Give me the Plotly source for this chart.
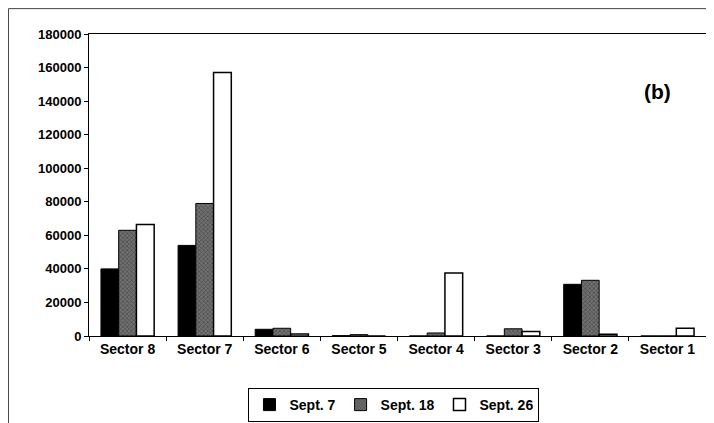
import plotly.graph_objects as go

categories = ["Sector 8", "Sector 7", "Sector 6", "Sector 5", "Sector 4", "Sector 3", "Sector 2", "Sector 1"]
sept7 = [40000, 54000, 4000, 200, 0, 0, 30800, 0]
sept18 = [63000, 79000, 4600, 800, 1800, 4300, 33200, 0]
sept26 = [66500, 157000, 1200, 0, 37500, 2700, 1000, 4600]
y_ticks = [0, 20000, 40000, 60000, 80000, 100000, 120000, 140000, 160000, 180000]

font_family = "Arial, Liberation Sans, sans-serif"

fig = go.Figure()
fig.add_trace(go.Bar(x=categories, y=sept7, name="Sept. 7",
                     marker=dict(color="black", line=dict(color="black", width=1))))
fig.add_trace(go.Bar(x=categories, y=sept18, name="Sept. 18",
                     marker=dict(color="#666", line=dict(color="black", width=1),
                                 pattern=dict(shape="x", fgcolor="#222", bgcolor="#707070",
                                              size=3, solidity=0.4))))
fig.add_trace(go.Bar(x=categories, y=sept26, name="Sept. 26",
                     marker=dict(color="white", line=dict(color="black", width=1.5))))

# page has an 8px body margin, so the figure is sized to the visible area
fig.update_layout(
    width=706, height=415,
    margin=dict(l=81, r=8, t=26, b=87, autoexpand=False),
    paper_bgcolor="white", plot_bgcolor="white",
    barmode="group", bargap=0.31, bargroupgap=0,
    font=dict(family=font_family, size=13, color="black"),
    showlegend=True,
    legend=dict(orientation="h", xref="container", yref="container",
                x=0.5467, xanchor="center", y=0.0843, yanchor="top",
                bordercolor="black", borderwidth=1, bgcolor="white",
                font=dict(family=font_family, size=14, color="black", weight="bold"),
                itemwidth=30, tracegroupgap=0),
    annotations=[dict(text="<b>(b)</b>", x=0.9206, y=0.808, xref="paper", yref="paper",
                      xanchor="center", yanchor="middle",
                      showarrow=False, font=dict(family=font_family, size=21, color="black"))],
    shapes=[dict(type="rect", xref="paper", yref="paper", x0=-0.1305, x1=1.05, y0=-0.35, y1=1.084,
                 line=dict(color="#444", width=1), layer="below")],
)
fig.update_xaxes(showline=True, linecolor="black", linewidth=1, mirror=True,
                 ticks="outside", ticklen=4, tickcolor="black", tickson="boundaries",
                 showgrid=False,
                 tickfont=dict(family=font_family, size=14, color="black", weight="bold"))
fig.update_yaxes(range=[0, 180000], tickvals=y_ticks, ticktext=[str(v) for v in y_ticks],
                 showline=True, linecolor="black", linewidth=1, mirror=True,
                 ticks="outside", ticklen=4, tickcolor="black", showgrid=False, zeroline=False,
                 tickfont=dict(family=font_family, size=13, color="black", weight="bold"))

fig.write_html("out.html")
